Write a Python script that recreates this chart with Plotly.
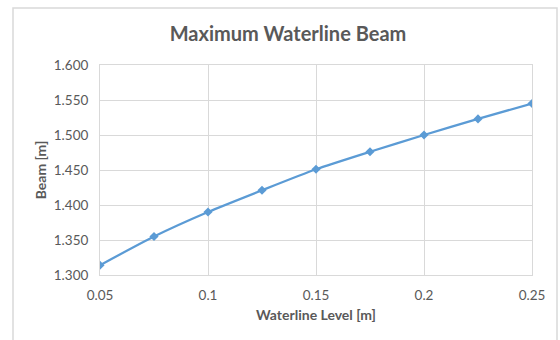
import plotly.graph_objects as go

waterline = [0.05, 0.075, 0.1, 0.125, 0.15, 0.175, 0.2, 0.225, 0.25]
beam = [1.314, 1.355, 1.390, 1.421, 1.451, 1.476, 1.500, 1.523, 1.545]
x_ticks = [0.05, 0.1, 0.15, 0.2, 0.25]
x_tick_labels = ["0.05", "0.1", "0.15", "0.2", "0.25"]
y_ticks = [1.300, 1.350, 1.400, 1.450, 1.500, 1.550, 1.600]
y_tick_labels = ["1.300", "1.350", "1.400", "1.450", "1.500", "1.550", "1.600"]

FONT = "Lato"
GREY = "#595959"

fig = go.Figure()
fig.add_trace(go.Scatter(
    x=waterline, y=beam, mode="lines+markers",
    line=dict(color="#5B9BD5", width=2.25, shape="spline", smoothing=0.6),
    marker=dict(symbol="diamond", size=7, color="#5B9BD5"),
    showlegend=False,
))

L, R, T, B = 100, 28, 65, 65
W, H = 560, 340
pw = W - L - R
ph = H - T - B

fig.update_layout(
    width=W, height=H,
    margin=dict(l=L, r=R, t=T, b=B),
    paper_bgcolor="white", plot_bgcolor="white",
    font=dict(family=FONT, color=GREY, size=13),
    title=dict(text="<b>Maximum Waterline Beam</b>", x=288 / W, xanchor="center",
               y=1 - 34 / H, yanchor="middle",
               font=dict(size=20, color=GREY, family=FONT)),
    xaxis=dict(range=[0.05, 0.25], tickvals=x_ticks, ticktext=x_tick_labels,
               showgrid=True, gridcolor="#D9D9D9", gridwidth=1,
               showline=True, linecolor="#D9D9D9", mirror=True,
               zeroline=False, ticks="", tickfont=dict(size=13.5, color=GREY),
               ticklabelstandoff=8,
               title=dict(text="<b>Waterline Level [m]</b>", font=dict(size=14, color=GREY), standoff=7)),
    yaxis=dict(range=[1.300, 1.600], tickvals=y_ticks, ticktext=y_tick_labels,
               showgrid=True, gridcolor="#D9D9D9", gridwidth=1,
               showline=True, linecolor="#D9D9D9", mirror=True,
               zeroline=False, ticks="", tickfont=dict(size=13.5, color=GREY),
               ticklabelstandoff=8,
               title=dict(text="<b>Beam [m]</b>", font=dict(size=14, color=GREY), standoff=3)),
)

fig.add_shape(type="rect", xref="paper", yref="paper",
              x0=(13 - L) / pw, x1=(557 - L) / pw,
              y0=(H - T - 345) / ph, y1=(H - T - 8) / ph,
              line=dict(color="#D9D9D9", width=1.5), fillcolor="rgba(0,0,0,0)",
              layer="below")

fig.write_html("out.html")
